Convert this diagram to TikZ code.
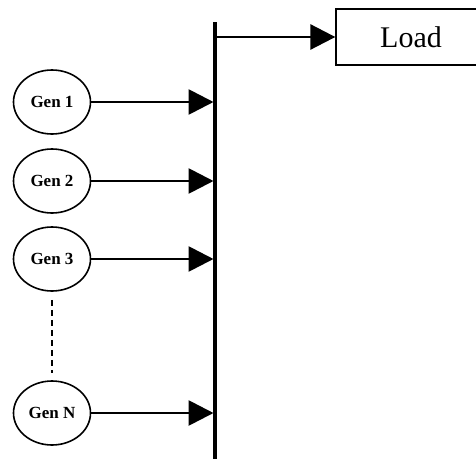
\documentclass[tikz,border=0pt]{standalone}
\usepackage{fontspec}
\setmainfont{Liberation Serif}
\usetikzlibrary{arrows.meta,shapes.geometric}
\begin{document}
\begin{tikzpicture}[x=1pt,y=-1pt,
  gen/.style={draw,line width=1.6pt,ellipse,minimum width=77pt,minimum height=64pt,
    inner sep=0pt,font=\fontsize{17}{20}\selectfont\bfseries},
  loadbox/.style={draw,line width=1.3pt,rectangle,minimum width=150pt,minimum height=56pt,
    inner sep=0pt,font=\fontsize{30}{36}\selectfont},
  flow/.style={line width=2.8pt,-{Triangle[length=25pt,width=25pt]},shorten >=1.5pt},
  bus/.style={line width=3.8pt},
  link/.style={line width=1.4pt,dash pattern=on 6pt off 4pt}]
\useasboundingbox (0,0) rectangle (476,458);

% busbar
\coordinate (bt) at (215,22);
\coordinate (bb) at (215,460);
\draw[bus] (bt) -- (bb);

% load
\node[loadbox] (load) at (411,37) {Load};
\draw[flow,shorten >=0pt] (load.west -| bt) -- (load.west);

% generators
\node[gen] (g1) at (52,102) {Gen 1};
\node[gen] (g2) at (52,181) {Gen 2};
\node[gen] (g3) at (52,259) {Gen 3};
\node[gen] (gn) at (52,413) {Gen N};

\foreach \g in {g1,g2,g3,gn}
  \draw[flow] (\g.east) -- (\g.east -| bt);

\draw[link,shorten <=8pt,shorten >=7pt] (g3.south) -- (gn.north);
\end{tikzpicture}
\end{document}
